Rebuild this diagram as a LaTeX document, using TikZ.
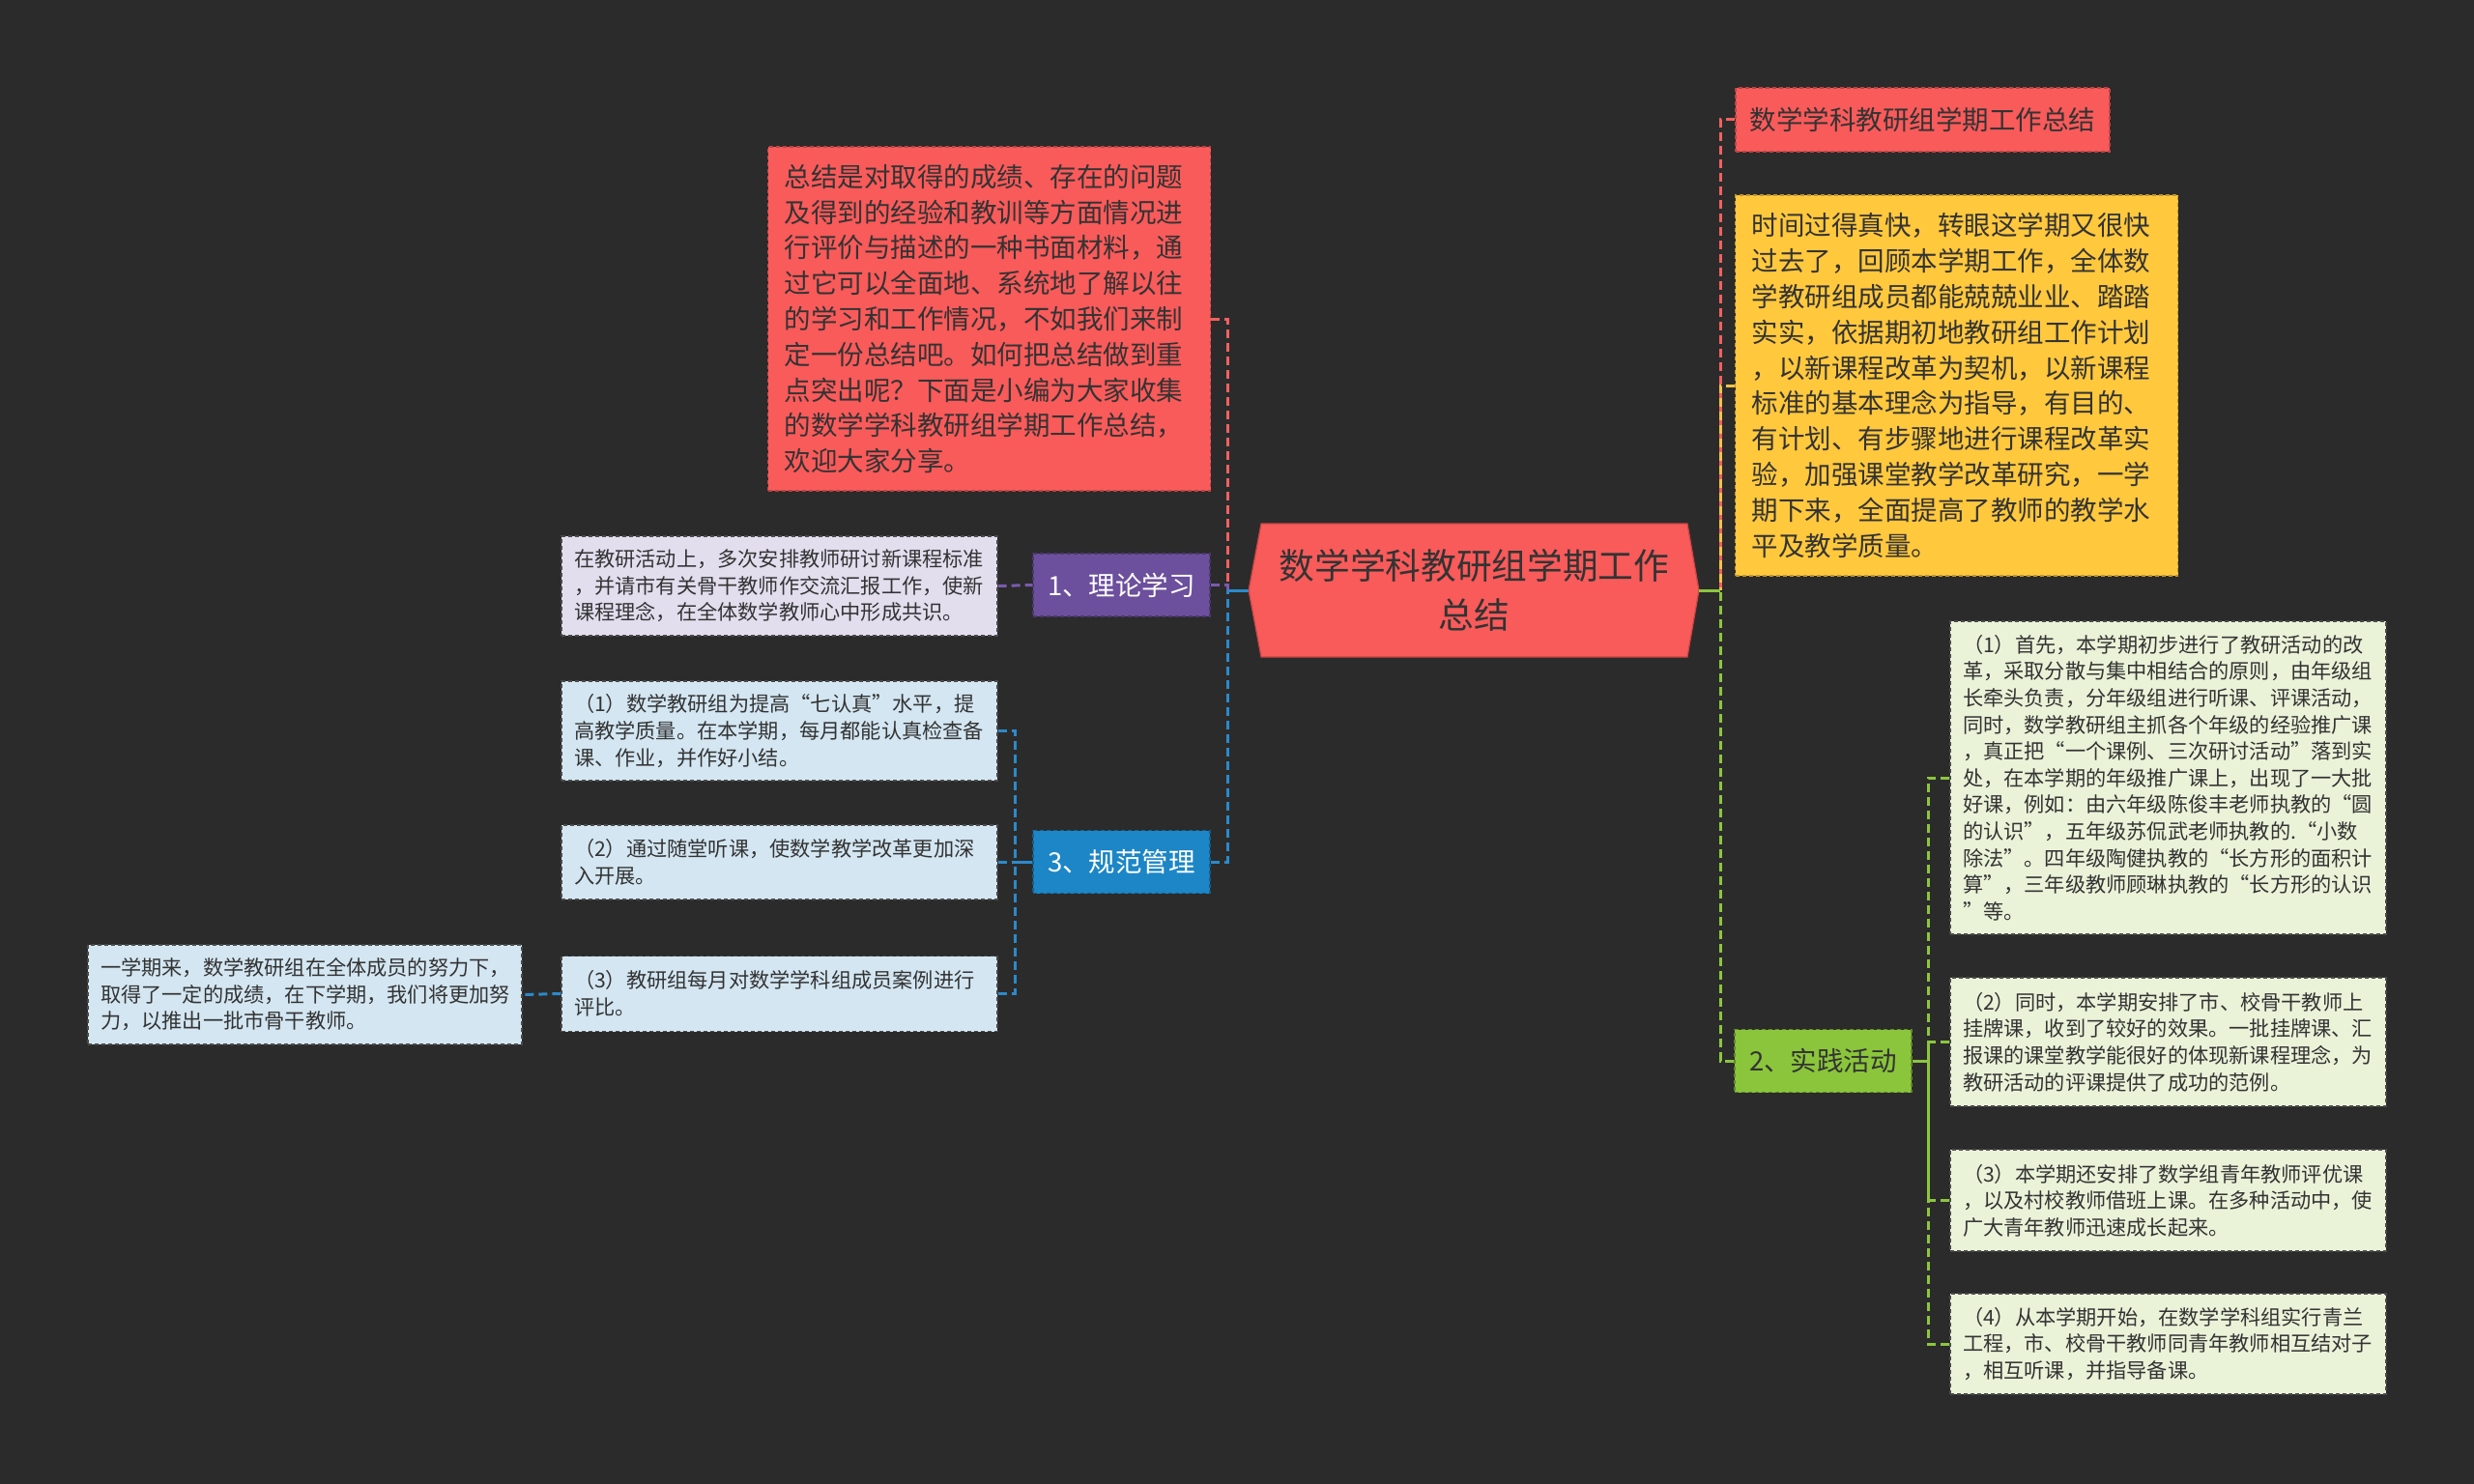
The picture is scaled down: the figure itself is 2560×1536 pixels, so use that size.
\documentclass[tikz,border=0pt]{standalone}
\usepackage{fontspec}
\setmainfont{Noto Sans CJK SC}
\usetikzlibrary{positioning}
\definecolor{Backdrop}{HTML}{2B2B2B}
\definecolor{Ink}{HTML}{333333}
\definecolor{Coral}{HTML}{F95A5A}
\definecolor{CoralEdge}{HTML}{C94444}
\definecolor{Amber}{HTML}{FFC83D}
\definecolor{AmberEdge}{HTML}{C99A20}
\definecolor{Grape}{HTML}{6C4F9D}
\definecolor{Ocean}{HTML}{1C86C6}
\definecolor{Lime}{HTML}{8AC53B}
\definecolor{Lilac}{HTML}{E2DEEE}
\definecolor{Frost}{HTML}{D3E6F2}
\definecolor{Celery}{HTML}{EAF2D8}
\definecolor{LeafEdge}{HTML}{4A4A4A}
\definecolor{LinkRed}{HTML}{F26161}
\definecolor{LinkGrape}{HTML}{7B5AAE}
\definecolor{LinkOcean}{HTML}{2B8ACB}
\definecolor{LinkAmber}{HTML}{F4C24A}
\definecolor{LinkLime}{HTML}{8CC63F}

\begin{document}
\begin{tikzpicture}[x=0.5pt, y=-0.5pt,
    leaf/.style={fill=#1, draw=LeafEdge, line width=0.6pt, dash pattern=on 2pt off 1.5pt, text=Ink,
      font=\fontsize{10.6}{13.8}\selectfont, text width=212.5pt, inner xsep=6.5pt, inner ysep=0pt, align=left},
    note/.style={fill=#1, draw=#1!75!black, line width=0.6pt, dash pattern=on 2pt off 1.5pt, text=Ink,
      font=\fontsize{13.75}{18.4}\selectfont, text width=212pt, inner xsep=8.5pt, inner ysep=0pt, align=left},
    branch/.style={fill=#1, draw=#1!70!black, line width=0.6pt, dash pattern=on 2pt off 1.5pt,
      font=\fontsize{13.75}{18.4}\selectfont, minimum width=91.5pt, minimum height=32.5pt, inner sep=0pt},
    link/.style={draw=#1, line width=1.5pt, dash pattern=on 4.5pt off 2.5pt}]
  \fill[Backdrop] (0,0) rectangle (2560,1536);
  \useasboundingbox (0,0) rectangle (2560,1536);

  % central topic
  \filldraw[fill=Coral, draw=CoralEdge, line width=0.6pt]
    (1305,542) -- (1746,542) -- (1758,611) -- (1746,680) -- (1305,680) -- (1292,611) -- cycle;
  \node[text=Ink, font=\fontsize{18.35}{25.5}\selectfont, align=center, minimum width=220.5pt, minimum height=69pt, inner sep=0pt]
    (root) at (1525.5,611) {数学学科教研组学期工作\\总结};
  \coordinate (rootL) at (1292,611);
  \coordinate (rootR) at (1758,611);
  \coordinate (jL) at (1270,611);
  \coordinate (jR) at (1780,611);

  % right side
  \node[note=Coral, text width=179pt, inner xsep=7.25pt, minimum height=33pt] (title) at (1989.5,124) {数学学科教研组学期工作总结};
  \node[note=Amber, minimum height=197pt] (recap) at (2024.5,399) {
    时间过得真快，转眼这学期又很快\\
    过去了，回顾本学期工作，全体数\\
    学教研组成员都能兢兢业业、踏踏\\
    实实，依据期初地教研组工作计划\\
    ，以新课程改革为契机，以新课程\\
    标准的基本理念为指导，有目的、\\
    有计划、有步骤地进行课程改革实\\
    验，加强课堂教学改革研究，一学\\
    期下来，全面提高了教师的教学水\\
    平及教学质量。};
  \node[branch=Lime, text=Ink] (practice) at (1886.5,1098) {2、实践活动};
  \node[leaf=Celery, minimum height=162pt] (practiceA) at (2243.5,805) {
    （1）首先，本学期初步进行了教研活动的改\\
    革，采取分散与集中相结合的原则，由年级组\\
    长牵头负责，分年级组进行听课、评课活动，\\
    同时，数学教研组主抓各个年级的经验推广课\\
    ，真正把“一个课例、三次研讨活动”落到实\\
    处，在本学期的年级推广课上，出现了一大批\\
    好课，例如：由六年级陈俊丰老师执教的“圆\\
    的认识”，五年级苏侃武老师执教的.“小数\\
    除法”。四年级陶健执教的“长方形的面积计\\
    算”，三年级教师顾琳执教的“长方形的认识\\
    ”等。};
  \node[leaf=Celery, minimum height=66.5pt] (practiceB) at (2243.5,1078.5) {
    （2）同时，本学期安排了市、校骨干教师上\\
    挂牌课，收到了较好的效果。一批挂牌课、汇\\
    报课的课堂教学能很好的体现新课程理念，为\\
    教研活动的评课提供了成功的范例。};
  \node[leaf=Celery, minimum height=52.5pt] (practiceC) at (2243.5,1242.5) {
    （3）本学期还安排了数学组青年教师评优课\\
    ，以及村校教师借班上课。在多种活动中，使\\
    广大青年教师迅速成长起来。};
  \node[leaf=Celery, minimum height=52pt] (practiceD) at (2243.5,1391) {
    （4）从本学期开始，在数学学科组实行青兰\\
    工程，市、校骨干教师同青年教师相互结对子\\
    ，相互听课，并指导备课。};

  % left side
  \node[note=Coral, minimum height=178pt] (intro) at (1023.5,330) {
    总结是对取得的成绩、存在的问题\\
    及得到的经验和教训等方面情况进\\
    行评价与描述的一种书面材料，通\\
    过它可以全面地、系统地了解以往\\
    的学习和工作情况，不如我们来制\\
    定一份总结吧。如何把总结做到重\\
    点突出呢？下面是小编为大家收集\\
    的数学学科教研组学期工作总结，\\
    欢迎大家分享。};
  \node[branch=Grape, text=white] (theory) at (1160.5,605.5) {1、理论学习};
  \node[leaf=Lilac, minimum height=51.5pt] (theoryA) at (806.5,606.5) {
    在教研活动上，多次安排教师研讨新课程标准\\
    ，并请市有关骨干教师作交流汇报工作，使新\\
    课程理念，在全体数学教师心中形成共识。};
  \node[branch=Ocean, text=white] (manage) at (1160.5,892) {3、规范管理};
  \node[leaf=Frost, minimum height=51.5pt] (manageA) at (806.5,756.5) {
    （1）数学教研组为提高“七认真”水平，提\\
    高教学质量。在本学期，每月都能认真检查备\\
    课、作业，并作好小结。};
  \node[leaf=Frost, minimum height=38.5pt] (manageB) at (806.5,892.5) {
    （2）通过随堂听课，使数学教学改革更加深\\
    入开展。};
  \node[leaf=Frost, minimum height=39pt] (manageC) at (806.5,1028.5) {
    （3）教研组每月对数学学科组成员案例进行\\
    评比。};
  \node[leaf=Frost, minimum height=51.5pt, text width=211.5pt] (outlook) at (315.5,1029.5) {
    一学期来，数学教研组在全体成员的努力下，\\
    取得了一定的成绩，在下学期，我们将更加努\\
    力，以推出一批市骨干教师。};

  % connectors, right
  \draw[link=LinkRed] (title.west) -| (jR);
  \draw[link=LinkAmber] (recap.west) -| (jR);
  \draw[link=LinkLime] (practice.west) -| (jR);
  \draw[LinkLime, line width=1.5pt] (rootR) -- (jR);
  \coordinate (jP) at (1995,1098);
  \foreach \leafname in {practiceA,practiceB,practiceC,practiceD}
    \draw[link=LinkLime] (\leafname.west) -| (jP) -- (practice.east);

  % connectors, left
  \draw[link=LinkRed] (intro.east) -| (jL);
  \draw[link=LinkGrape] (theory.east) -| (jL);
  \draw[link=LinkOcean] (manage.east) -| (jL);
  \draw[LinkOcean, line width=1.5pt] (jL) -- (rootL);
  \draw[link=LinkGrape] (theoryA.east) -- (theory.west);
  \coordinate (jM) at (1050,892);
  \foreach \leafname in {manageA,manageB,manageC}
    \draw[link=LinkOcean] (\leafname.east) -| (jM) -- (manage.west);
  \draw[link=LinkOcean] (manageC.west) -- (outlook.east);
\end{tikzpicture}
\end{document}
